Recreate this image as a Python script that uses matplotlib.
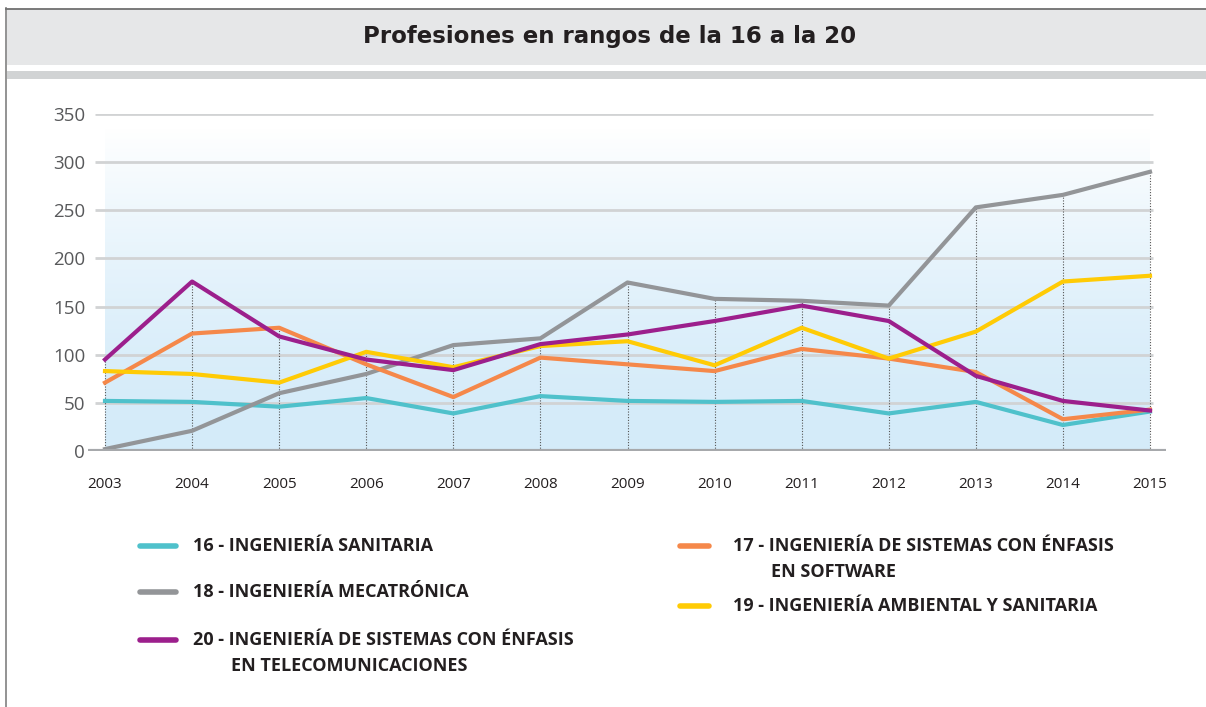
import numpy as np
import matplotlib
matplotlib.use('Agg')
import matplotlib.pyplot as plt
from matplotlib.lines import Line2D
from matplotlib.patches import Rectangle

# data
years = [2003, 2004, 2005, 2006, 2007, 2008, 2009, 2010, 2011, 2012, 2013, 2014, 2015]
sanitaria = [52, 51, 46, 55, 39, 57, 52, 51, 52, 39, 51, 27, 41]
sistemas_software = [71, 122, 128, 90, 56, 97, 90, 83, 106, 96, 82, 33, 43]
mecatronica = [2, 21, 60, 80, 110, 117, 175, 158, 156, 151, 253, 266, 290]
ambiental = [83, 80, 71, 103, 87, 109, 114, 89, 128, 96, 124, 176, 182]
sistemas_telecom = [95, 176, 119, 95, 84, 111, 121, 135, 151, 135, 78, 52, 42]

yticks = [0, 50, 100, 150, 200, 250, 300, 350]
title = 'Profesiones en rangos de la 16 a la 20'

c_teal = '#4fc1cb'
c_orange = '#f5884a'
c_gray = '#939598'
c_yellow = '#ffcb05'
c_purple = '#9c1f8c'

W, H = 1206, 707
fig = plt.figure(figsize=(W / 100, H / 100), dpi=100)

def fx(px):
    return px / W

def fy(py):
    return 1 - py / H

# frame and header
fig.add_artist(Rectangle((fx(7), fy(65)), fx(1199), fy(9) - fy(65), color='#e6e7e8', lw=0))
fig.add_artist(Rectangle((fx(7), fy(79)), fx(1199), fy(71) - fy(79), color='#d1d3d4', lw=0))
fig.add_artist(Line2D([fx(6), fx(6)], [fy(8), fy(707)], color='#8a8a8a', lw=1.3))
fig.add_artist(Line2D([fx(6), fx(1206)], [fy(8.5), fy(8.5)], color='#707070', lw=1.3))
fig.text(fx(610), fy(37), title, ha='center', va='center', fontsize=16.5,
         fontweight='bold', family='DejaVu Sans', color='#231f20')

# axes
ax = fig.add_axes([fx(88), fy(451), fx(1166 - 88), (451 - 114) / H])
step = (1150 - 105) / 12
ax.set_xlim(2003 - (105 - 88) / step, 2015 + (1166 - 1150) / step)
ax.set_ylim(0, 350)

# background gradient
grad = np.linspace(0, 1, 256).reshape(-1, 1)
bottom = np.array([212, 235, 249]) / 255
top = np.array([1.0, 1.0, 1.0])
img = bottom + (top - bottom) * grad ** 1.6
ax.imshow(img[:, None, :].repeat(2, axis=1), extent=[2003, 2015, 0, 335], origin='lower',
          aspect='auto', zorder=0)

for t in yticks[1:]:
    ax.hlines(t, 2003 - 10 / step, 2015 + 3 / step, color='#d1d3d4', lw=2, zorder=1)
ax.axhline(0, color='#a7a9ac', lw=3, zorder=6)

series = [sanitaria, mecatronica, sistemas_software, ambiental, sistemas_telecom]
tops = np.max(np.array(series), axis=0)
ax.vlines(years, 0, tops, color='#555555', lw=0.8, linestyles=(0, (1, 1.5)), zorder=2)

ax.plot(years, sanitaria, color=c_teal, lw=3, zorder=3)
ax.plot(years, mecatronica, color=c_gray, lw=3, zorder=3)
ax.plot(years, sistemas_software, color=c_orange, lw=3, zorder=3)
ax.plot(years, ambiental, color=c_yellow, lw=3, zorder=3)
ax.plot(years, sistemas_telecom, color=c_purple, lw=3, zorder=4)

for s in ax.spines.values():
    s.set_visible(False)
ax.set_xticks(years)
ax.set_xticklabels([str(y) for y in years], fontsize=11, family='Open Sans', color='#231f20')
ax.set_yticks(yticks)
ax.set_yticklabels([str(t) for t in yticks], fontsize=13.5, family='Open Sans', color='#58595b')
ax.tick_params(axis='x', length=0, pad=19)
ax.tick_params(axis='y', length=0, pad=2)

# legend drawn by hand
legend = [
    (140, 176, 546, c_teal, '16 - INGENIERÍA SANITARIA', None),
    (140, 176, 592, c_gray, '18 - INGENIERÍA MECATRÓNICA', None),
    (140, 176, 640, c_purple, '20 - INGENIERÍA DE SISTEMAS CON ÉNFASIS', 'EN TELECOMUNICACIONES'),
    (680, 709, 546, c_orange, '17 - INGENIERÍA DE SISTEMAS CON ÉNFASIS', 'EN SOFTWARE'),
    (680, 709, 606, c_yellow, '19 - INGENIERÍA AMBIENTAL Y SANITARIA', None),
]
for x0, x1, y, col, lab, lab2 in legend:
    fig.add_artist(Line2D([fx(x0), fx(x1)], [fy(y), fy(y)], color=col, lw=4,
                          solid_capstyle='round'))
    tx = x1 + 17 if x0 == 140 else x1 + 24
    fig.text(fx(tx), fy(y), lab, ha='left', va='center', fontsize=13,
             fontweight='bold', family='Open Sans', color='#231f20')
    if lab2:
        fig.text(fx(tx + 38), fy(y + 26), lab2, ha='left', va='center', fontsize=13,
                 fontweight='bold', family='Open Sans', color='#231f20')

fig.savefig('out.png', dpi=100)
